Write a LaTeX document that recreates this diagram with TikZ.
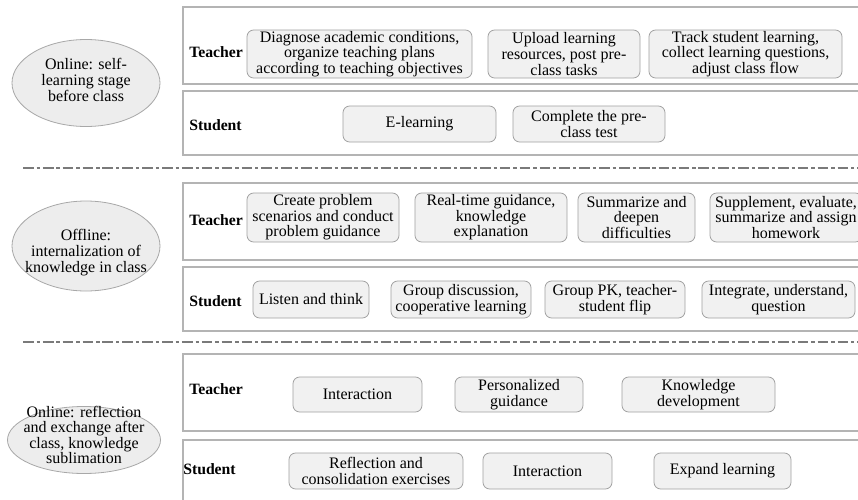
\documentclass[tikz,border=0pt]{standalone}
\usepackage{fontspec}
\setmainfont{Liberation Serif}
\usetikzlibrary{shapes.geometric}
\definecolor{boxline}{HTML}{A0A0A0}
\definecolor{boxfill}{HTML}{F1F1F1}
\definecolor{frameline}{HTML}{B4B4B4}
\definecolor{sepline}{HTML}{7A7A7A}
\definecolor{ellline}{HTML}{A8A8A8}
\definecolor{ellfill}{HTML}{EDEDED}
\begin{document}
\begin{tikzpicture}[x=0.75pt,y=-0.75pt,
  every node/.style={font=\fontsize{12pt}{11.7pt}\selectfont, inner sep=0pt, align=center},
  sz/.style 2 args={minimum width={#1*0.75pt}, minimum height={#2*0.75pt}},
  box/.style={draw=boxline, fill=boxfill, rounded corners=5pt, line width=0.6pt},
  frame/.style={draw=frameline, line width=0.8pt},
  sep/.style={draw=sepline, line width=0.9pt, dash pattern=on 8pt off 2.2pt on 2.5pt off 2.2pt},
  stage/.style={ellipse, draw=ellline, fill=ellfill, line width=0.6pt},
  role/.style={font=\fontsize{11.8pt}{11.7pt}\selectfont\bfseries, anchor=west}
]
\clip (0,0) rectangle (858,500);
\fill[white] (0,0) rectangle (858,500);

% frames
\draw[frame] (183,7) rectangle (870,84);
\draw[frame] (183,91) rectangle (870,155);
\draw[frame] (183,183) rectangle (870,260);
\draw[frame] (183,267) rectangle (870,331);
\draw[frame] (183,354) rectangle (870,431);
\draw[frame] (183,440) rectangle (870,515);

% separators
\coordinate (s1a) at (23,168); \coordinate (s1b) at (858,168);
\coordinate (s2a) at (23,342); \coordinate (s2b) at (858,342);
\draw[sep] (s1a) -- (s1b);
\draw[sep] (s2a) -- (s2b);

% stages
\node[stage, sz={148}{87}] (e1) at (86,83) {};
\node (t1) at (86,80) {Online: self-\\learning stage\\before class};
\node[stage, sz={148}{90}] (e2) at (86,246) {};
\node (t2) at (86,252.5) {Offline:\\internalization of\\knowledge in class};
\node[stage, sz={153}{67}] (e3) at (84,440) {};
\node (t3) at (84,435) {Online: reflection\\and exchange after\\class, knowledge\\sublimation};

% roles
\node[role] (r1t) at (189,52) {Teacher};
\node[role] (r1s) at (189,125) {Student};
\node[role] (r2t) at (189,220) {Teacher};
\node[role] (r2s) at (189,301) {Student};
\node[role] (r3t) at (189,389) {Teacher};
\node[role] (r3s) at (183,469) {Student};

% section 1
\node[box, sz={225}{48}] (A) at (359.5,54) {Diagnose academic conditions,\\organize teaching plans\\according to teaching objectives};
\node[box, sz={152}{48}] (B) at (564,54) {Upload learning\\resources, post pre-\\class tasks};
\node[box, sz={193}{48}] (C) at (745.5,54) {Track student learning,\\collect learning questions,\\adjust class flow};
\node[box, sz={153}{36}] (D) at (419.5,124) {E-learning};
\node[box, sz={152}{36}] (E) at (589,124) {Complete the pre-\\class test};

% section 2
\node[box, sz={152}{49}] (F) at (323,217.5) {Create problem\\scenarios and conduct\\problem guidance};
\node[box, sz={152}{49}] (G) at (491,217.5) {Real-time guidance,\\knowledge\\explanation};
\node[box, sz={117}{49}] (H) at (636.5,217.5) {Summarize and\\deepen\\difficulties};
\node[box, sz={152}{49}] (I) at (786,217.5) {Supplement, evaluate,\\summarize and assign\\homework};
\node[box, sz={116}{37}] (J) at (311,299.5) {Listen and think};
\node[box, sz={140}{37}] (K) at (461,299.5) {Group discussion,\\cooperative learning};
\node[box, sz={140}{37}] (L) at (615,299.5) {Group PK, teacher-\\student flip};
\node[box, sz={153}{37}] (M) at (778.5,299.5) {Integrate, understand,\\question};

% section 3
\node[box, sz={129}{35}] (N) at (357.5,394.5) {Interaction};
\node[box, sz={128}{35}] (O) at (519,394.5) {Personalized\\guidance};
\node[box, sz={153}{35}] (P) at (698.5,394.5) {Knowledge\\development};
\node[box, sz={174}{36}] (Q) at (376,471) {Reflection and\\consolidation exercises};
\node[box, sz={129}{36}] (R) at (547.5,471) {Interaction};
\node[box, sz={137}{36}] (S) at (722.5,471) {Expand learning};
\end{tikzpicture}
\end{document}
